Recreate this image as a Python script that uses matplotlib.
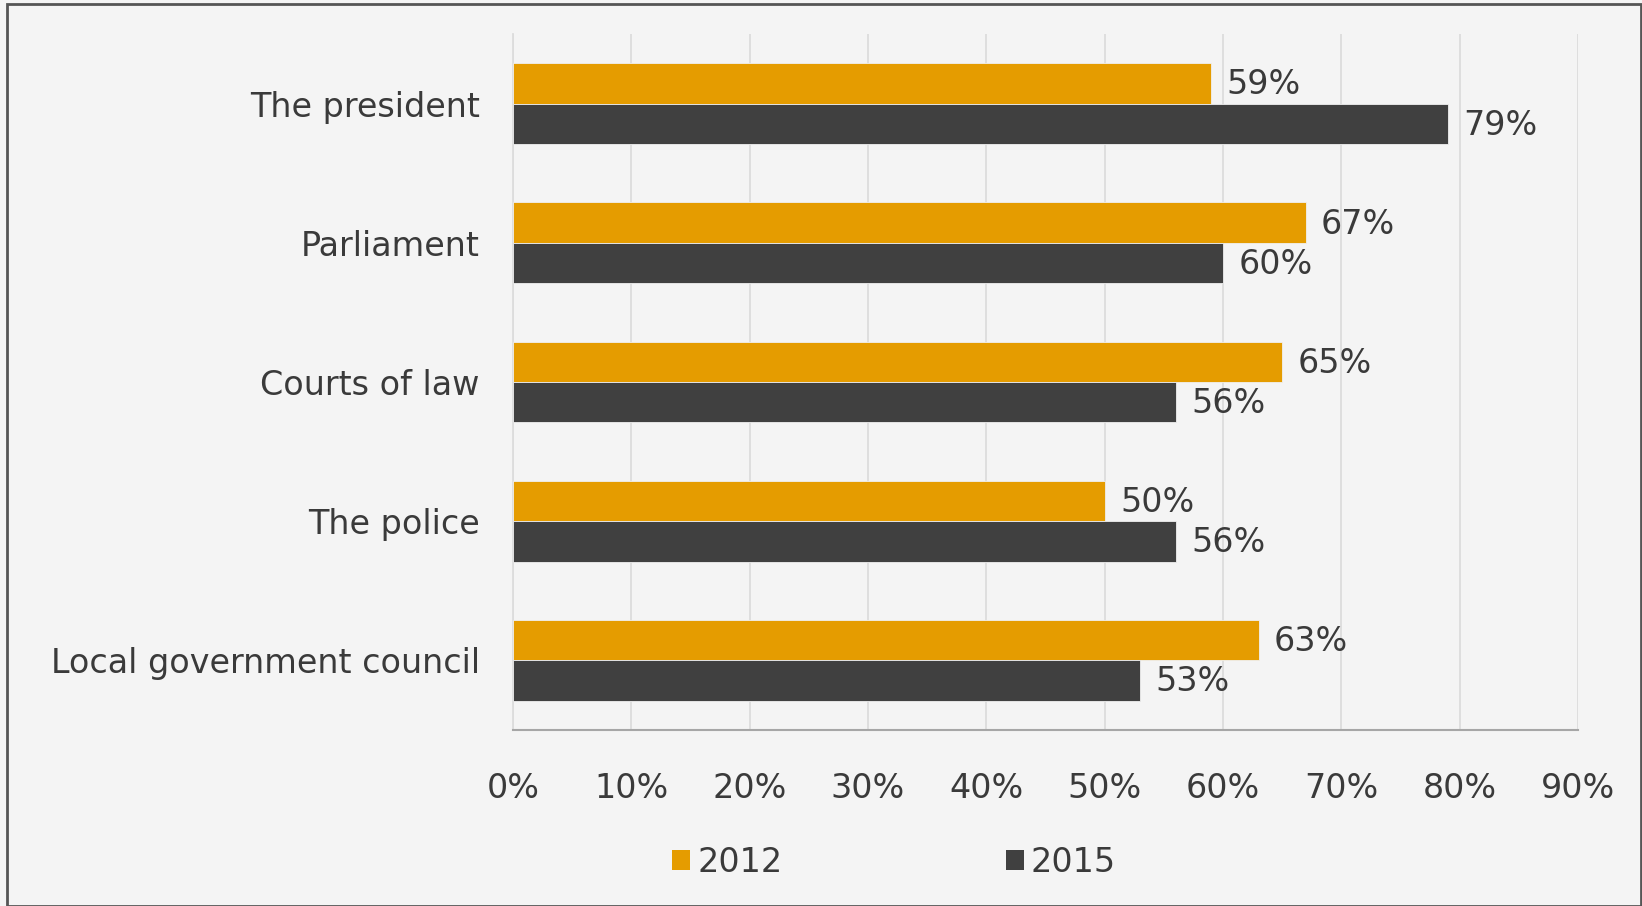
import matplotlib
matplotlib.use("Agg")
import matplotlib.pyplot as plt
from matplotlib.patches import Patch, Rectangle
import numpy as np

categories = ["The president", "Parliament", "Courts of law", "The police",
              "Local government council"]
values_2012 = [59, 67, 65, 50, 63]
values_2015 = [79, 60, 56, 56, 53]
series_names = ["2012", "2015"]
x_ticks = [0, 10, 20, 30, 40, 50, 60, 70, 80, 90]
x_tick_labels = [f"{t}%" for t in x_ticks]

ORANGE = "#E59C00"
DARK = "#404040"
TEXT = "#3A3A3A"
BG = "#F4F4F4"
GRID = "#DCDCDC"
FS = 24

plt.rcParams["font.family"] = ["DejaVu Sans"]

W, H = 1642, 906
fig = plt.figure(figsize=(W / 100, H / 100), dpi=100, facecolor=BG)

# outer chart border
fig.add_artist(Rectangle((7 / W, 0), (W - 8) / W, 1 - 4 / H, transform=fig.transFigure,
                         fill=False, edgecolor="#555555", linewidth=2.0))

ax = fig.add_axes([513 / W, 1 - 730 / H, (1578 - 513) / W, (730 - 34) / H])
ax.set_facecolor("none")

y = np.arange(len(categories))
h = 0.29
bars12 = ax.barh(y - h / 2, values_2012, height=h, color=ORANGE,
                 edgecolor="#F0F0F0", linewidth=0.6, zorder=3)
bars15 = ax.barh(y + h / 2, values_2015, height=h, color=DARK,
                 edgecolor="#F0F0F0", linewidth=0.6, zorder=3)

for bars, vals in ((bars12, values_2012), (bars15, values_2015)):
    for b, v in zip(bars, vals):
        ax.annotate(f"{v}%", (v, b.get_y() + b.get_height() / 2),
                    xytext=(11, -1), textcoords="offset points",
                    ha="left", va="center", fontsize=FS, color=TEXT)

ax.set_xlim(0, 90)
ax.set_ylim(len(categories) - 0.5, -0.5)
ax.set_xticks(x_ticks)
ax.set_xticklabels(x_tick_labels)
ax.set_yticks(y)
ax.set_yticklabels(categories)
ax.tick_params(axis="x", length=0, pad=30, labelsize=FS, labelcolor=TEXT)
ax.tick_params(axis="y", length=0, pad=24, labelsize=FS, labelcolor=TEXT)

ax.grid(axis="x", color=GRID, linewidth=1.3, zorder=0)
ax.set_axisbelow(True)
for s in ("top", "right"):
    ax.spines[s].set_visible(False)
ax.spines["left"].set_color(GRID)
ax.spines["left"].set_linewidth(1.3)
ax.spines["bottom"].set_color("#A6A6A6")
ax.spines["bottom"].set_linewidth(1.5)

handles = [Patch(facecolor=ORANGE, edgecolor="none"), Patch(facecolor=DARK, edgecolor="none")]
fig.legend(handles, series_names, loc="center", bbox_to_anchor=(894 / W, 1 - 862 / H),
           ncol=2, frameon=False, fontsize=FS, labelcolor=TEXT,
           handlelength=0.55, handleheight=0.55, handletextpad=0.2,
           columnspacing=6.7)

fig.savefig("out.png", dpi=100, facecolor=BG)
